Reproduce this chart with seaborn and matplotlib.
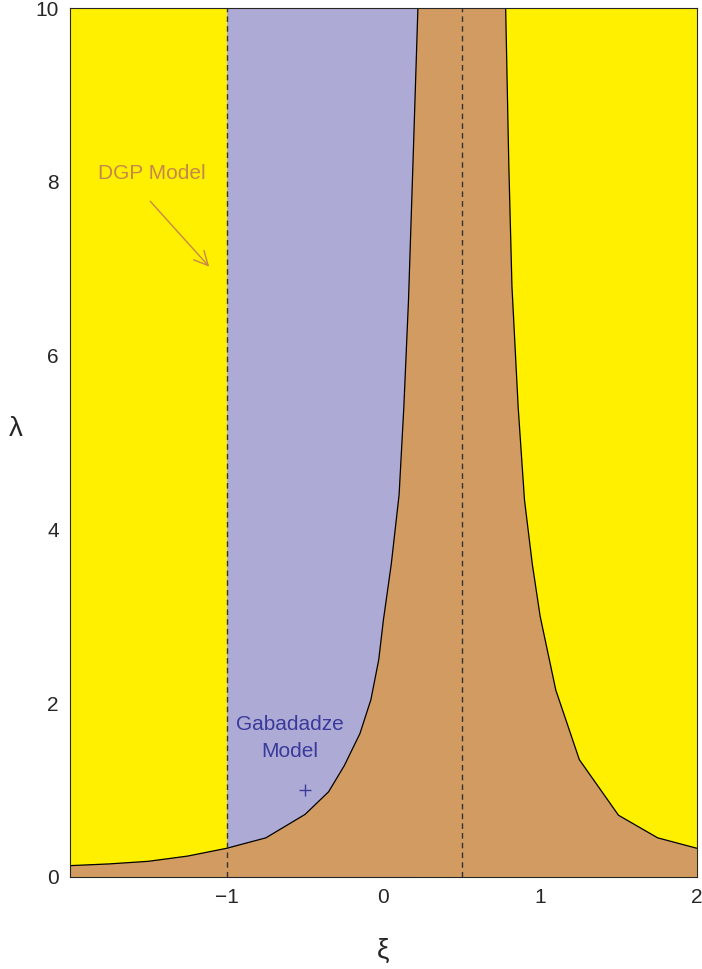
import matplotlib
matplotlib.use("Agg")
import matplotlib.pyplot as plt
import seaborn as sns
import numpy as np

sns.set_style("white")
plt.rcParams['font.family'] = ['Liberation Sans', 'DejaVu Sans']

left_xi = [-2.0, -1.75, -1.5, -1.25, -1.0, -0.75, -0.5, -0.35, -0.25, -0.15, -0.08, -0.03, 0.0, 0.05, 0.1, 0.13, 0.16, 0.19, 0.22]
left_lam = [0.13, 0.15, 0.18, 0.24, 0.33, 0.45, 0.72, 0.98, 1.28, 1.65, 2.04, 2.5, 2.96, 3.6, 4.4, 5.4, 6.64, 8.3, 10.0]
right_xi = [0.78, 0.8, 0.82, 0.86, 0.9, 0.95, 1.0, 1.1, 1.25, 1.5, 1.75, 2.0]
right_lam = [10.0, 8.2, 6.8, 5.4, 4.34, 3.6, 3.0, 2.15, 1.35, 0.71, 0.45, 0.33]

yellow, lav, brown = "#FFF000", "#AEAAD6", "#D29B62"

fig = plt.figure(figsize=(7.02, 9.69), dpi=100)
ax = fig.add_axes([0.0997, 0.095, 0.893, 0.8967])
ax.set_facecolor(yellow)
ax.fill_between([-1, 0.22], 0, 10, color=lav, lw=0)
poly_x = left_xi + right_xi + [2.0, -2.0]
poly_y = left_lam + right_lam + [0.0, 0.0]
ax.fill(poly_x, poly_y, color=brown, lw=0)
ax.plot(left_xi, left_lam, color="black", lw=0.9)
ax.plot(right_xi, right_lam, color="black", lw=0.9)
ax.axvline(-1, color="#333333", ls=(0, (4, 3)), lw=1)
ax.axvline(0.5, color="#333333", ls=(0, (4, 3)), lw=1)

ax.text(-1.48, 8.1, "DGP Model", color="#C8874A", fontsize=15, ha="center", va="center")
ax.annotate("", xy=(-1.1, 7.0), xytext=(-1.5, 7.8),
            arrowprops=dict(arrowstyle="->", color="#C8874A", lw=1, mutation_scale=25))
ax.text(-0.6, 1.6, "Gabadadze\nModel", color="#3A3A9A", fontsize=15, ha="center", va="center", linespacing=1.5)
ax.plot([-0.5], [1.0], marker="+", color="#3A3A9A", ms=8, mew=1)

ax.set_xlim(-2, 2)
ax.set_ylim(0, 10)
ax.set_xticks([-1, 0, 1, 2])
ax.set_xticklabels(["\u22121", "0", "1", "2"])
ax.set_yticks([0, 2, 4, 6, 8, 10])
ax.set_xticks(np.arange(-2, 2.01, 0.25), minor=True)
ax.set_yticks(np.arange(0, 10.01, 0.5), minor=True)
ax.tick_params(direction="in", length=6, labelsize=15, pad=8)
ax.tick_params(which="minor", direction="in", length=3)
ax.set_xlabel("\u03be", fontsize=20, labelpad=22)
ax.set_ylabel("\u03bb", fontsize=20, rotation=0, labelpad=14)
for s in ax.spines.values():
    s.set_linewidth(0.8)
fig.savefig("out.png", dpi=100)
